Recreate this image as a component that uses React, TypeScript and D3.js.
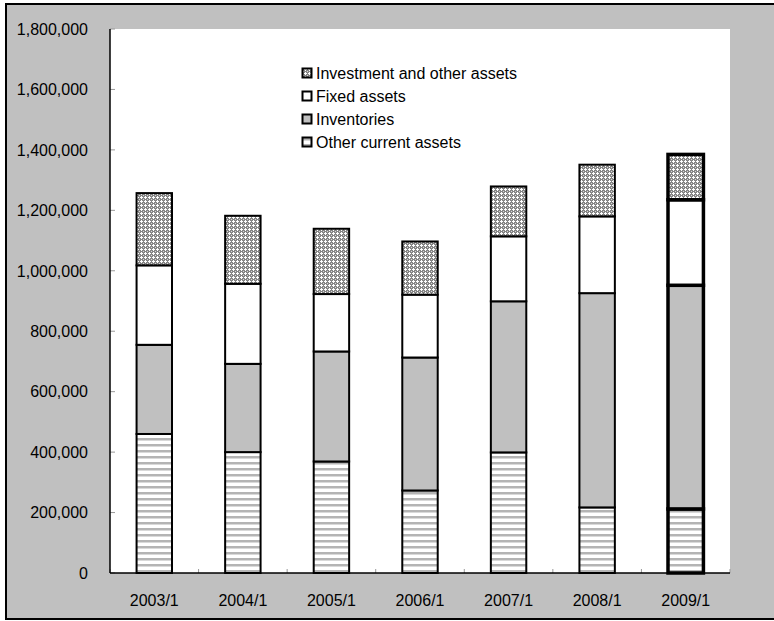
import React from "react";
import * as d3 from "d3";

// Balance-sheet asset breakdown by fiscal period (thousands)
const periods = ["2003/1", "2004/1", "2005/1", "2006/1", "2007/1", "2008/1", "2009/1"];
const otherCurrentAssets = [460000, 400000, 369000, 273000, 399000, 217000, 212000];
const inventories = [295000, 292000, 364000, 440000, 500000, 709000, 740000];
const fixedAssets = [263000, 265000, 190000, 208000, 215000, 254000, 283000];
const investmentAndOther = [239000, 225000, 216000, 176000, 165000, 171000, 150000];

const seriesKeys = ["other", "inv", "fixed", "invest"];
const legendLabels = [
  { key: "invest", label: "Investment and other assets" },
  { key: "fixed", label: "Fixed assets" },
  { key: "inv", label: "Inventories" },
  { key: "other", label: "Other current assets" },
];
const yTicks = [0, 200000, 400000, 600000, 800000, 1000000, 1200000, 1400000, 1600000, 1800000];
const highlightedPeriod = "2009/1";

const W = 774;
const H = 621;
const plot = { left: 110, right: 730, top: 29, bottom: 573 };
const FONT = "'Liberation Sans', Arial, sans-serif";

const fills: Record<string, string> = {
  other: "url(#pat-lines)",
  inv: "#c0c0c0",
  fixed: "#ffffff",
  invest: "url(#pat-check)",
};

export default function App() {
  const rows = periods.map((p, i) => ({
    period: p,
    other: otherCurrentAssets[i],
    inv: inventories[i],
    fixed: fixedAssets[i],
    invest: investmentAndOther[i],
  }));

  const x = d3
    .scaleBand<string>()
    .domain(periods)
    .range([plot.left, plot.right])
    .paddingInner(0.6)
    .paddingOuter(0.3);
  const step = x.step();

  const y = d3.scaleLinear().domain([0, 1800000]).range([plot.bottom, plot.top]);

  const stacked = d3.stack<any>().keys(seriesKeys)(rows);
  const fmt = d3.format(",");

  return (
    <svg
      width={W}
      height={H}
      style={{ position: "absolute", left: 0, top: 0, fontFamily: FONT }}
    >
      <defs>
        <pattern id="pat-lines" width={6} height={6} patternUnits="userSpaceOnUse">
          <rect width={6} height={6} fill="#ffffff" />
          <rect y={0} width={6} height={2.5} fill="#b4b4b4" />
        </pattern>
        <pattern id="pat-check" width={4} height={4} patternUnits="userSpaceOnUse">
          <rect width={4} height={4} fill="#858585" />
          <rect x={0} y={1} width={3} height={1} fill="#ffffff" />
          <rect x={1} y={0} width={1} height={3} fill="#ffffff" />
          <rect x={3} y={3} width={1} height={1} fill="#d8d8d8" />
        </pattern>
      </defs>

      {/* outer frame */}
      <rect x={6} y={4} width={800} height={615} fill="#c0c0c0" stroke="#000" strokeWidth={2} />

      {/* plot area */}
      <rect
        x={plot.left}
        y={plot.top}
        width={plot.right - plot.left}
        height={plot.bottom - plot.top}
        fill="#ffffff"
      />

      {/* y ticks and labels */}
      {yTicks.map((t) => (
        <g key={t}>
          <line x1={plot.left} x2={plot.left + 5} y1={y(t)} y2={y(t)} stroke="#999" strokeWidth={1} />
          <text
            x={88}
            y={y(t)}
            dy="0.36em"
            textAnchor="end"
            fontSize={16}
            fill="#000"
          >
            {fmt(t)}
          </text>
        </g>
      ))}

      {/* x ticks at category boundaries */}
      {d3.range(periods.length + 1).map((i) => (
        <line
          key={i}
          x1={plot.left + i * step}
          x2={plot.left + i * step}
          y1={plot.bottom - 4}
          y2={plot.bottom}
          stroke="#999"
          strokeWidth={1}
        />
      ))}

      {/* stacked bars */}
      {stacked.map((layer) => (
        <g key={layer.key}>
          {layer.map((d: any) => {
            const p = d.data.period as string;
            const thick = p === highlightedPeriod;
            const bx = x(p)!;
            const bw = x.bandwidth();
            return (
              <rect
                key={p}
                x={bx}
                y={y(d[1])}
                width={bw}
                height={y(d[0]) - y(d[1])}
                fill={fills[layer.key]}
                stroke="#000"
                strokeWidth={thick ? 3.5 : 2}
              />
            );
          })}
        </g>
      ))}

      {/* axes */}
      <line x1={plot.left} x2={plot.left} y1={plot.top} y2={plot.bottom} stroke="#000" strokeWidth={1.5} />
      <line x1={plot.left} x2={plot.right} y1={plot.bottom} y2={plot.bottom} stroke="#000" strokeWidth={1.5} />

      {/* x labels */}
      {periods.map((p) => (
        <text
          key={p}
          x={x(p)! + x.bandwidth() / 2}
          y={606}
          textAnchor="middle"
          fontSize={16}
          fill="#000"
        >
          {p}
        </text>
      ))}

      {/* legend */}
      {legendLabels.map((l, i) => {
        const cy = 73 + i * 23;
        return (
          <g key={l.key}>
            <rect
              x={302.5}
              y={cy - 4.5}
              width={9}
              height={9}
              fill={fills[l.key]}
              stroke="#000"
              strokeWidth={2}
            />
            <text x={316} y={cy} dy="0.36em" fontSize={16} fill="#000">
              {l.label}
            </text>
          </g>
        );
      })}
    </svg>
  );
}
